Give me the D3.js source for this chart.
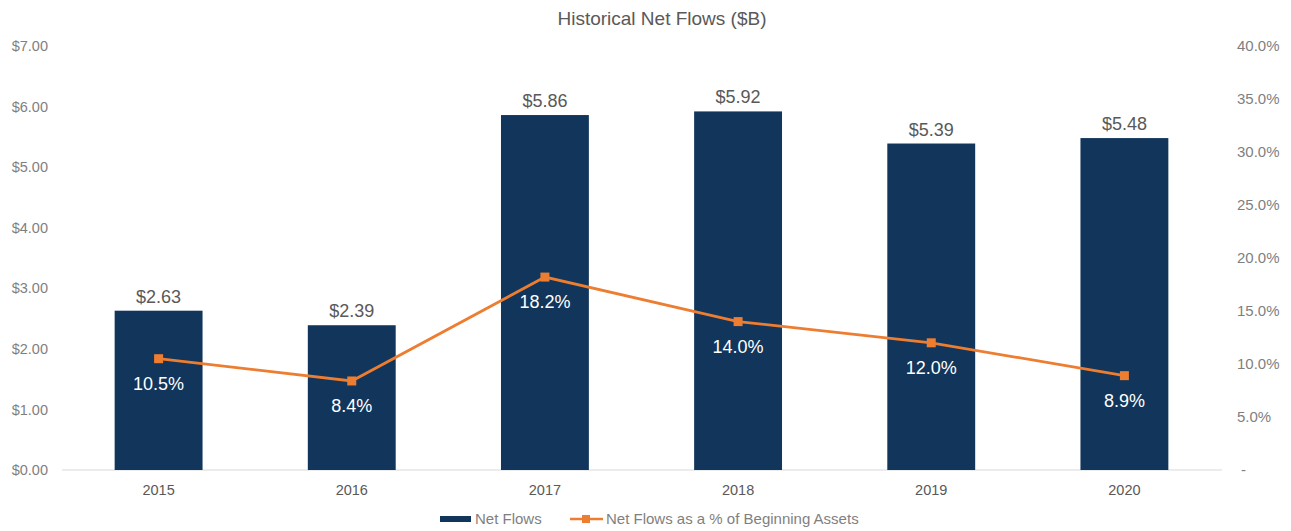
<!DOCTYPE html>
<html><head><meta charset="utf-8">
<script src="https://cdn.jsdelivr.net/npm/d3@7"></script>
<style>body{margin:0;background:#fff}svg{display:block;font-family:"Liberation Sans",Arial,sans-serif}</style>
</head><body><svg id="c" width="1291" height="531"></svg>
<script>
const years = ["2015","2016","2017","2018","2019","2020"];
const netFlows = [2.63, 2.39, 5.86, 5.92, 5.39, 5.48];
const pctFlows = [10.5, 8.4, 18.2, 14.0, 12.0, 8.9];
const leftTicks = [0,1,2,3,4,5,6,7];
const rightTicks = [0,5,10,15,20,25,30,35,40];

const svg = d3.select("#c");
const x = d3.scaleBand().domain(years).range([62.5,1220.5]).paddingInner(0.545).paddingOuter(0.27);
const yL = d3.scaleLinear().domain([0,7]).range([470,46]);
const yR = d3.scaleLinear().domain([0,40]).range([470,46]);
const barColor = "#11355b", lineColor = "#ed7d31";

svg.append("text").attr("x",662).attr("y",25).attr("text-anchor","middle")
  .attr("font-size",19).attr("fill","#595959").text("Historical Net Flows ($B)");

// left axis
const gl = svg.append("g").attr("transform","translate(48,0)")
  .call(d3.axisLeft(yL).tickValues(leftTicks).tickSize(0).tickFormat(d=>"$"+d3.format(".2f")(d)));
gl.select(".domain").remove();
gl.selectAll("text").attr("font-size",14.5).attr("fill","#7f7f7f").attr("x",0).attr("font-family","Liberation Sans, Arial");

// right axis
const gr = svg.append("g").attr("transform","translate(1237,0)")
  .call(d3.axisRight(yR).tickValues(rightTicks).tickSize(0).tickFormat(d=>d===0?"-":d3.format(".1f")(d)+"%"));
gr.select(".domain").remove();
gr.selectAll("text").attr("font-size",15).attr("fill","#7f7f7f").attr("x",0).attr("font-family","Liberation Sans, Arial");
gr.selectAll(".tick").filter(d=>d===0).select("text").attr("x",4);

// baseline
svg.append("line").attr("x1",62).attr("x2",1222).attr("y1",yL(0)).attr("y2",yL(0)).attr("stroke","#d9d9d9");

// bars
svg.selectAll("rect.bar").data(years).join("rect").attr("class","bar")
  .attr("x",d=>x(d)).attr("width",x.bandwidth())
  .attr("y",(d,i)=>yL(netFlows[i])).attr("height",(d,i)=>yL(0)-yL(netFlows[i]))
  .attr("fill",barColor);

svg.selectAll("text.bl").data(years).join("text").attr("class","bl")
  .attr("x",d=>x(d)+x.bandwidth()/2).attr("y",(d,i)=>yL(netFlows[i])-8)
  .attr("text-anchor","middle").attr("font-size",18).attr("fill","#595959")
  .text((d,i)=>"$"+d3.format(".2f")(netFlows[i]));

// x axis
const gx = svg.append("g").attr("transform","translate(0,"+(yL(0)+12)+")")
  .call(d3.axisBottom(x).tickSize(0));
gx.select(".domain").remove();
gx.selectAll("text").attr("font-size",14.5).attr("fill","#595959").attr("font-family","Liberation Sans, Arial");

// line
const cx = d => x(d)+x.bandwidth()/2;
const line = d3.line().x((d,i)=>cx(years[i])).y(d=>yR(d));
svg.append("path").datum(pctFlows).attr("d",line).attr("fill","none").attr("stroke",lineColor).attr("stroke-width",2.75);
svg.selectAll("rect.mk").data(pctFlows).join("rect").attr("class","mk")
  .attr("x",(d,i)=>cx(years[i])-4.5).attr("y",d=>yR(d)-4.5).attr("width",9).attr("height",9).attr("fill",lineColor);
svg.selectAll("text.pl").data(pctFlows).join("text").attr("class","pl")
  .attr("x",(d,i)=>cx(years[i])).attr("y",d=>yR(d)+31)
  .attr("text-anchor","middle").attr("font-size",18).attr("fill","#ffffff")
  .text(d=>d3.format(".1f")(d)+"%");

// legend
const lg = svg.append("g").attr("transform","translate(0,519)");
lg.append("rect").attr("x",440).attr("y",-3).attr("width",31).attr("height",6).attr("fill",barColor);
lg.append("text").attr("x",475).attr("y",5).attr("font-size",15).attr("fill","#7f7f7f").text("Net Flows");
lg.append("line").attr("x1",570).attr("x2",603).attr("y1",0).attr("y2",0).attr("stroke",lineColor).attr("stroke-width",2.5);
lg.append("rect").attr("x",582).attr("y",-4).attr("width",8).attr("height",8).attr("fill",lineColor);
lg.append("text").attr("x",606).attr("y",5).attr("font-size",15).attr("fill","#7f7f7f").text("Net Flows as a % of Beginning Assets");
</script></body></html>
